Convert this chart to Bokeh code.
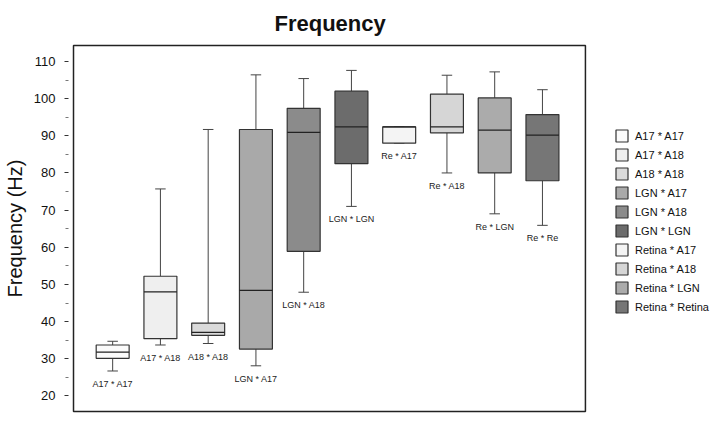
from bokeh.plotting import figure
from bokeh.models import (ColumnDataSource, Range1d, FixedTicker, Legend, LegendItem)
from bokeh.embed import file_html
from bokeh.resources import INLINE
from bokeh.core.properties import value

# ---- data ----
box_labels = ["A17 * A17", "A17 * A18", "A18 * A18", "LGN * A17", "LGN * A18",
              "LGN * LGN", "Re * A17", "Re * A18", "Re * LGN", "Re * Re"]
legend_labels = ["A17 * A17", "A17 * A18", "A18 * A18", "LGN * A17", "LGN * A18",
                 "LGN * LGN", "Retina * A17", "Retina * A18", "Retina * LGN",
                 "Retina * Retina"]
whisker_low = [26.7, 33.7, 34.1, 28.1, 47.9, 71.0, 88.0, 80.0, 69.0, 65.9]
q1 = [30.1, 35.4, 36.3, 32.6, 58.9, 82.5, 88.0, 90.8, 80.0, 77.9]
median = [31.8, 48.0, 37.1, 48.4, 90.9, 92.4, 92.4, 92.4, 91.5, 90.2]
q3 = [33.7, 52.2, 39.6, 91.7, 97.4, 102.0, 92.4, 101.2, 100.2, 95.7]
whisker_high = [34.7, 75.7, 91.7, 106.4, 105.4, 107.6, 92.4, 106.3, 107.2, 102.4]
fills = ["#fbfbfb", "#efefef", "#dadada", "#a9a9a9", "#8b8b8b",
         "#6c6c6c", "#f4f4f4", "#d6d6d6", "#ababab", "#767676"]
y_ticks = [20, 30, 40, 50, 60, 70, 80, 90, 100, 110]
y_minor = [25, 35, 45, 55, 65, 75, 85, 95, 105]

# plotting-box extent (in axis units) and styling constants
BOX_X0, BOX_X1 = 0.18, 10.9
BOX_Y0, BOX_Y1 = 15.8, 114.3
BOX_W = 0.69
CAP_W = 0.22

xs = list(range(1, len(box_labels) + 1))

src = ColumnDataSource(dict(
    x=xs, q1=q1, q3=q3, med=median, lo=whisker_low, hi=whisker_high,
    fill=fills, lab=box_labels,
    cl=[x - CAP_W / 2 for x in xs], cr=[x + CAP_W / 2 for x in xs],
    ml=[x - BOX_W / 2 for x in xs], mr=[x + BOX_W / 2 for x in xs],
))

p = figure(frame_width=640, frame_height=370, output_backend="svg", toolbar_location=None,
           x_axis_location=None,
           x_range=Range1d(0.138, 13.54), y_range=Range1d(15.262, 114.838),
           min_border_left=64, min_border_top=36, min_border_bottom=0,
           min_border_right=0)

p.title.text = "Frequency"
p.title.align = "left"
p.title.offset = 203
p.title.standoff = 16
p.title.text_font = "Liberation Sans"
p.title.text_font_size = "22px"
p.title.text_font_style = "bold"
p.title.text_color = "#111111"

p.xgrid.visible = False
p.ygrid.visible = False
p.outline_line_color = None
p.background_fill_color = "white"
p.border_fill_color = "white"

ya = p.yaxis[0]
ya.ticker = FixedTicker(ticks=y_ticks, minor_ticks=y_minor)
ya.axis_line_color = None
ya.major_tick_in = -3
ya.major_tick_out = 7
ya.minor_tick_in = -3
ya.minor_tick_out = 6
ya.major_tick_line_color = "#333333"
ya.minor_tick_line_color = "#777777"
ya.major_label_text_font = "Liberation Sans"
ya.major_label_text_font_size = "13px"
ya.major_label_text_color = "#111111"
ya.major_label_standoff = 9
ya.axis_label = "Frequency (Hz)"
ya.axis_label_text_font = "Liberation Sans"
ya.axis_label_text_font_size = "20px"
ya.axis_label_text_font_style = "normal"
ya.axis_label_text_color = "#111111"
ya.axis_label_standoff = 5

# frame rectangle around the boxes
p.quad(left=[BOX_X0], right=[BOX_X1], bottom=[BOX_Y0], top=[BOX_Y1],
       fill_color=None, line_color="#222222", line_width=1.5)

# whiskers
p.segment(x0="x", y0="q3", x1="x", y1="hi", source=src, line_color="#444444", line_width=1)
p.segment(x0="x", y0="lo", x1="x", y1="q1", source=src, line_color="#444444", line_width=1)
p.segment(x0="cl", y0="hi", x1="cr", y1="hi", source=src, line_color="#444444", line_width=1)
p.segment(x0="cl", y0="lo", x1="cr", y1="lo", source=src, line_color="#444444", line_width=1)
# boxes
boxes = p.vbar(x="x", bottom="q1", top="q3", width=BOX_W, source=src,
               fill_color="fill", line_color="#333333", line_width=1.2)
# medians
p.segment(x0="ml", y0="med", x1="mr", y1="med", source=src, line_color="#222222", line_width=1.3)
# labels under boxes
p.text(x="x", y="lo", text="lab", source=src, text_align="center",
       text_baseline="middle", y_offset=13, text_font=value("Liberation Sans"),
       text_font_size="9px", text_color="#222222")

items = [LegendItem(label=lab, renderers=[boxes], index=i) for i, lab in enumerate(legend_labels)]
legend = Legend(items=items, location=(543, 99), orientation="vertical",
                glyph_width=15, glyph_height=15, label_height=15, spacing=4,
                label_standoff=6, padding=0, margin=0,
                label_text_font="Liberation Sans", label_text_font_size="11px",
                label_text_color="#111111", border_line_color=None,
                background_fill_alpha=0)
p.add_layout(legend, "center")

open("out.html", "w").write(file_html(p, INLINE))
